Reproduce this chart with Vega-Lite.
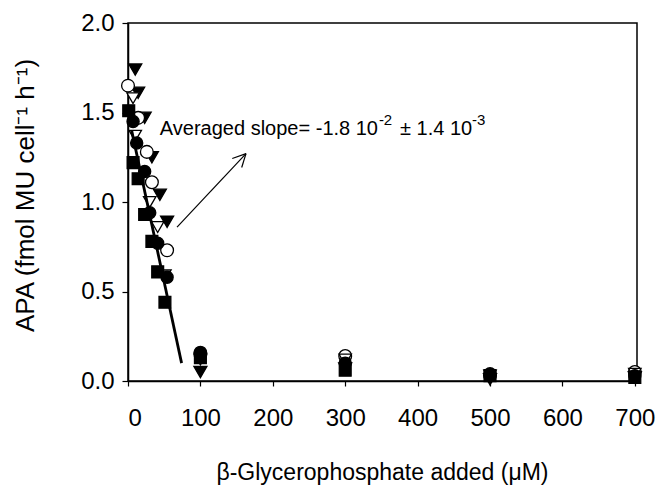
{
  "$schema": "https://vega.github.io/schema/vega-lite/v6.json",
  "width": 509,
  "height": 358,
  "autosize": {"type": "none"},
  "padding": {"left": 128, "top": 23, "right": 21, "bottom": 112},
  "background": "white",
  "config": {
    "view": {"stroke": "black", "strokeWidth": 1.5},
    "axis": {
      "labelFont": "Liberation Sans",
      "titleFont": "Liberation Sans",
      "labelFontSize": 24,
      "titleFontSize": 24,
      "labelColor": "black",
      "titleColor": "black",
      "titleFontWeight": "normal",
      "domainColor": "black",
      "domainWidth": 1.5,
      "tickColor": "black",
      "tickWidth": 1.2,
      "grid": false
    }
  },
  "datasets": {
    "points": [
      {"series": "A", "conc": 10, "apa": 1.74},
      {"series": "A", "conc": 14, "apa": 1.61},
      {"series": "A", "conc": 23, "apa": 1.47},
      {"series": "A", "conc": 33, "apa": 1.25},
      {"series": "A", "conc": 44, "apa": 1.04},
      {"series": "A", "conc": 54, "apa": 0.89},
      {"series": "A", "conc": 100, "apa": 0.05},
      {"series": "A", "conc": 300, "apa": 0.07},
      {"series": "A", "conc": 500, "apa": 0.01},
      {"series": "A", "conc": 700, "apa": 0.02},
      {"series": "B", "conc": 0, "apa": 1.65},
      {"series": "B", "conc": 14, "apa": 1.47},
      {"series": "B", "conc": 26, "apa": 1.28},
      {"series": "B", "conc": 33, "apa": 1.11},
      {"series": "B", "conc": 54, "apa": 0.73},
      {"series": "B", "conc": 100, "apa": 0.15},
      {"series": "B", "conc": 300, "apa": 0.14},
      {"series": "B", "conc": 500, "apa": 0.03},
      {"series": "B", "conc": 700, "apa": 0.05},
      {"series": "C", "conc": 7, "apa": 1.58},
      {"series": "C", "conc": 10, "apa": 1.37},
      {"series": "C", "conc": 30, "apa": 1.0},
      {"series": "C", "conc": 41, "apa": 0.86},
      {"series": "C", "conc": 51, "apa": 0.59},
      {"series": "C", "conc": 100, "apa": 0.12},
      {"series": "C", "conc": 300, "apa": 0.12},
      {"series": "C", "conc": 500, "apa": 0.03},
      {"series": "C", "conc": 700, "apa": 0.04},
      {"series": "D", "conc": 7, "apa": 1.45},
      {"series": "D", "conc": 12, "apa": 1.33},
      {"series": "D", "conc": 23, "apa": 1.17},
      {"series": "D", "conc": 30, "apa": 0.94},
      {"series": "D", "conc": 41, "apa": 0.77},
      {"series": "D", "conc": 54, "apa": 0.58},
      {"series": "D", "conc": 100, "apa": 0.16},
      {"series": "D", "conc": 300, "apa": 0.1},
      {"series": "D", "conc": 500, "apa": 0.04},
      {"series": "D", "conc": 700, "apa": 0.03},
      {"series": "E", "conc": 1, "apa": 1.51},
      {"series": "E", "conc": 7, "apa": 1.22},
      {"series": "E", "conc": 14, "apa": 1.13},
      {"series": "E", "conc": 23, "apa": 0.93},
      {"series": "E", "conc": 33, "apa": 0.78},
      {"series": "E", "conc": 41, "apa": 0.61},
      {"series": "E", "conc": 51, "apa": 0.44},
      {"series": "E", "conc": 100, "apa": 0.13},
      {"series": "E", "conc": 300, "apa": 0.06},
      {"series": "E", "conc": 500, "apa": 0.03},
      {"series": "E", "conc": 700, "apa": 0.02}
    ],
    "fit": [
      {"conc": 5, "apa": 1.4, "conc2": 74, "apa2": 0.1}
    ],
    "arrow": [
      {"conc": 67.7, "apa": 0.86, "conc2": 163, "apa2": 1.27},
      {"conc": 163, "apa": 1.27, "conc2": 144, "apa2": 1.243},
      {"conc": 163, "apa": 1.27, "conc2": 157, "apa2": 1.193}
    ],
    "label": [
      {"conc": 44, "apa": 1.41, "text": "Averaged slope= -1.8 10"},
      {"conc": 375.7, "apa": 1.41, "text": "± 1.4 10"}
    ],
    "sup": [
      {"conc": 346.5, "apa": 1.41, "text": "-2"},
      {"conc": 475, "apa": 1.41, "text": "-3"}
    ]
  },
  "layer": [
    {
      "data": {"name": "points"},
      "mark": {"type": "point", "filled": true, "stroke": "black", "strokeWidth": 1.3, "opacity": 1},
      "encoding": {
        "x": {
          "field": "conc", "type": "quantitative",
          "scale": {"domain": [0, 703], "nice": false, "zero": false},
          "axis": {
            "values": [0, 100, 200, 300, 400, 500, 600, 700],
            "tickSize": 5,
            "labelPadding": 20,
            "title": "β-Glycerophosphate added (μM)",
            "titleFontSize": 23,
            "titleX": 254,
            "titleY": 91,
            "titleBaseline": "middle",
            "titleAlign": "center"
          }
        },
        "y": {
          "field": "apa", "type": "quantitative",
          "scale": {"domain": [0, 2], "nice": false},
          "axis": {
            "values": [0, 0.5, 1, 1.5, 2],
            "format": ".1f",
            "tickSize": 6,
            "labelPadding": 8,
            "title": "APA (fmol MU cell⁻¹ h⁻¹)",
            "titleFontSize": 26,
            "titleX": -103,
            "titleY": 172,
            "titleBaseline": "middle",
            "titleAlign": "center",
            "titleAngle": -90
          }
        },
        "shape": {
          "field": "series", "type": "nominal",
          "scale": {"domain": ["A", "B", "C", "D", "E"], "range": ["triangle-down", "circle", "triangle-down", "circle", "square"]},
          "legend": null
        },
        "fill": {
          "field": "series", "type": "nominal",
          "scale": {"domain": ["A", "B", "C", "D", "E"], "range": ["black", "white", "white", "black", "black"]},
          "legend": null
        },
        "size": {
          "field": "series", "type": "nominal",
          "scale": {"domain": ["A", "B", "C", "D", "E"], "range": [170, 140, 170, 140, 150]},
          "legend": null
        }
      }
    },
    {
      "data": {"name": "fit"},
      "mark": {"type": "rule", "color": "black", "strokeWidth": 2.8},
      "encoding": {
        "x": {"field": "conc", "type": "quantitative"},
        "y": {"field": "apa", "type": "quantitative"},
        "x2": {"field": "conc2"},
        "y2": {"field": "apa2"}
      }
    },
    {
      "data": {"name": "arrow"},
      "mark": {"type": "rule", "color": "black", "strokeWidth": 1.2},
      "encoding": {
        "x": {"field": "conc", "type": "quantitative"},
        "y": {"field": "apa", "type": "quantitative"},
        "x2": {"field": "conc2"},
        "y2": {"field": "apa2"}
      }
    },
    {
      "data": {"name": "label"},
      "mark": {"type": "text", "align": "left", "baseline": "middle", "font": "Liberation Sans", "fontSize": 20, "color": "black"},
      "encoding": {
        "x": {"field": "conc", "type": "quantitative"},
        "y": {"field": "apa", "type": "quantitative"},
        "text": {"field": "text"}
      }
    },
    {
      "data": {"name": "sup"},
      "mark": {"type": "text", "align": "left", "baseline": "middle", "font": "Liberation Sans", "fontSize": 15, "dy": -9, "color": "black"},
      "encoding": {
        "x": {"field": "conc", "type": "quantitative"},
        "y": {"field": "apa", "type": "quantitative"},
        "text": {"field": "text"}
      }
    }
  ]
}
